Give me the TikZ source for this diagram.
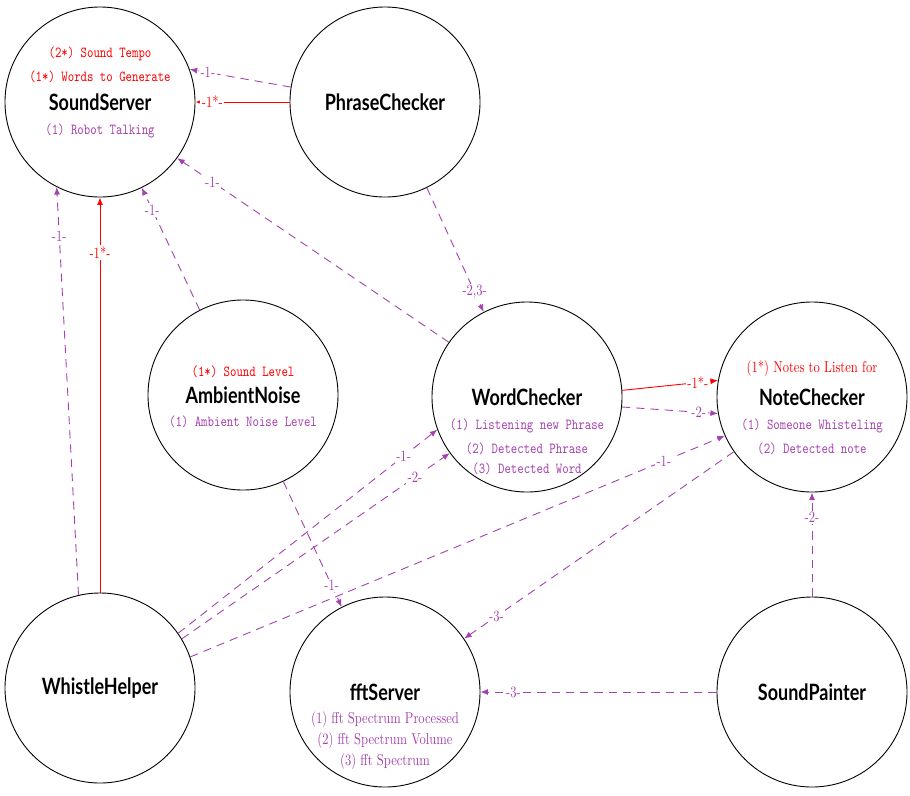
\documentclass[tikz,border=0pt]{standalone}
\usepackage{fontspec}
\usetikzlibrary{arrows.meta}
% narrow settings of the text faces
\setmainfont{lmroman10-regular.otf}[FakeStretch=0.8]
\setmonofont{lmmono10-regular.otf}[FakeStretch=0.8]
\newfontfamily\namefont{Lato}[FakeStretch=0.8]
\definecolor{purp}{RGB}{165,65,175}
\tikzset{
  agent/.style={circle, draw=black, line width=0.6pt, minimum size=126.7pt, inner sep=0pt,
                font=\namefont\bfseries\fontsize{15}{18}\selectfont},
  ttred/.style={inner sep=0pt, text=red, font=\ttfamily\fontsize{10.2}{12}\selectfont},
  ttpurp/.style={inner sep=0pt, text=purp, font=\ttfamily\fontsize{10.2}{12}\selectfont},
  rmred/.style={inner sep=0pt, text=red, font=\fontsize{10.5}{12}\selectfont},
  rmpurp/.style={inner sep=0pt, text=purp, font=\fontsize{10.5}{12}\selectfont},
  tip/.style={-{Latex[length=5pt,width=4pt]}},
  flow/.style={draw=purp, line width=0.6pt, dash pattern=on 5.5pt off 4pt, tip},
  req/.style={draw=red, line width=0.6pt, tip},
  lbl/.style={fill=white, inner sep=1pt, text=purp, font=\fontsize{10.5}{12}\selectfont},
  rlbl/.style={lbl, text=red},
}
\begin{document}
\begin{tikzpicture}[x=0.6667pt, y=-0.6667pt]
\useasboundingbox (0,0) rectangle (910,795);

% processes
\node[agent] (SS) at (100,102) {SoundServer};
\node[agent] (PC) at (385,102) {PhraseChecker};
\node[agent] (AN) at (243,395) {AmbientNoise};
\node[agent] (WC) at (527,397) {WordChecker};
\node[agent] (NC) at (812,397) {NoteChecker};
\node[agent] (WH) at (100,688) {WhistleHelper};
\node[agent] (FS) at (385,692) {fftServer};
\node[agent] (SP) at (812,692) {SoundPainter};

% topics handled by each process
\node[ttred]  (ss1) at (100,54)  {(2*) Sound Tempo};
\node[ttred]  (ss2) at (100,77)  {(1*) Words to Generate};
\node[ttpurp] (ss3) at (100,131) {(1) Robot Talking};

\node[ttred]  (an1) at (243,372) {(1*) Sound Level};
\node[ttpurp] (an2) at (243,422) {(1) Ambient Noise Level};

\node[ttpurp] (wc1) at (527,426) {(1) Listening new Phrase};
\node[ttpurp] (wc2) at (527,449) {(2) Detected Phrase};
\node[ttpurp] (wc3) at (527,469) {(3) Detected Word};

\node[rmred]  (nc1) at (812,369) {(1*) Notes to Listen for};
\node[ttpurp] (nc2) at (812,426) {(1) Someone Whisteling};
\node[ttpurp] (nc3) at (812,449) {(2) Detected note};

\node[rmpurp] (fs1) at (385,720) {(1) fft Spectrum Processed};
\node[rmpurp] (fs2) at (385,741) {(2) fft Spectrum Volume};
\node[rmpurp] (fs3) at (385,762) {(3) fft Spectrum};

% connections
\draw[flow] (PC.171) -- node[lbl,pos=0.82]{-1-} (SS.20);
\draw[req]  (PC.180) -- node[rlbl,pos=0.82]{-1*-} (SS.0);
\draw[flow] (PC.-64) -- node[lbl,pos=0.84]{-2,3-} (WC.117);
\draw[flow] (WC.145) -- node[lbl,pos=0.87]{-1-} (SS.-36);
\draw[flow] (AN.117) -- node[lbl,pos=0.82]{-1-} (SS.-64);
\draw[flow] (WH.103) -- node[lbl,pos=0.88]{-1-} (SS.-117);
\draw[req]  (WH.90)  -- node[rlbl,pos=0.86]{-1*-} (SS.-90);
\draw[req]  (WC.4)   -- node[rlbl,pos=0.79]{-1*-} (NC.170);
\draw[flow] (WC.-6)  -- node[lbl,pos=0.8]{-2-} (NC.-170);
\draw[flow] (WH.35)  -- node[lbl,pos=0.87]{-1-} (WC.-160);
\draw[flow] (WH.31)  -- node[lbl,pos=0.87]{-2-} (WC.-144);
\draw[flow] (WH.19)  -- node[lbl,pos=0.886]{-1-} (NC.-156);
\draw[flow] (NC.-145) -- node[lbl,pos=0.88]{-3-} (FS.34);
\draw[flow] (AN.-65) -- node[lbl,pos=0.83]{-1-} (FS.117);
\draw[flow] (SP.180) -- node[lbl,pos=0.86]{-3-} (FS.0);
\draw[flow] (SP.90)  -- node[lbl,pos=0.76]{-2-} (NC.-90);
\end{tikzpicture}
\end{document}
